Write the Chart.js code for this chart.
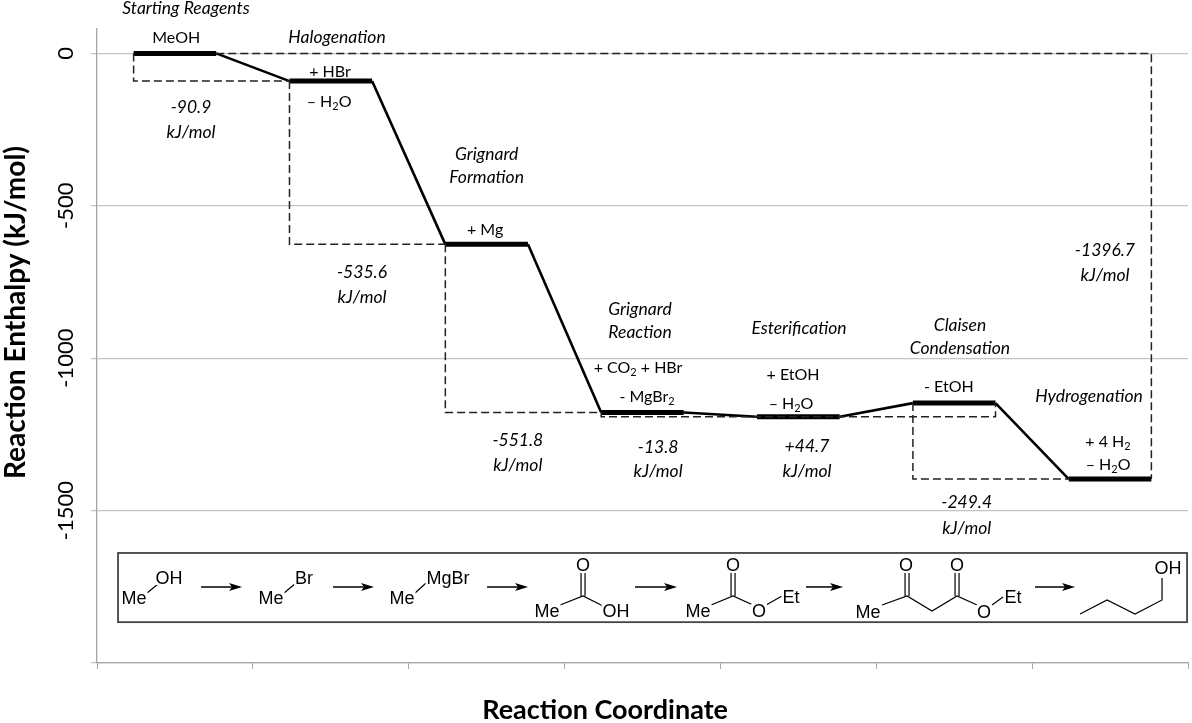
<!DOCTYPE html>
<html>
<head>
<meta charset="utf-8">
<script src="https://cdn.jsdelivr.net/npm/chart.js@4.4.1/dist/chart.umd.min.js"></script>
<style>
  html, body { margin: 0; padding: 0; background: #fff; }
  #wrap { width: 1192px; height: 723px; position: relative; }
</style>
</head>
<body>
<div id="wrap"><canvas id="enthalpyChart"></canvas></div>
<script>
// ---------- Data ----------
const stageNames = [["Starting Reagents"], ["Halogenation"], ["Grignard", "Formation"], ["Grignard", "Reaction"],
  ["Esterification"], ["Claisen", "Condensation"], ["Hydrogenation"]];
const levels = [0, -90.9, -626.5, -1178.3, -1192.1, -1147.4, -1396.7];   // kJ/mol, one per stage
const stepChanges = ["-90.9", "-535.6", "-551.8", "-13.8", "+44.7", "-249.4"];
const totalChange = "-1396.7";
const reagents = [["MeOH"], ["+ HBr", "– H_2O"], ["+ Mg"], ["+ CO_2 + HBr", "- MgBr_2"],
  ["+ EtOH", "– H_2O"], ["- EtOH"], ["+ 4 H_2", "– H_2O"]];
const yTicks = [0, -500, -1000, -1500, -2000];

// ---------- Layout (reaction coordinate / kJ/mol units) ----------
const HALF = 0.265;   // half width of an energy level
const stageNamePos = [[[0.571, 149]], [[1.54, 54]], [[2.5, -330], [2.5, -406]], [[3.484, -839], [3.484, -914]],
  [[4.504, -901]], [[5.537, -891], [5.537, -967]], [[6.365, -1124]]];
const reagentPos = [[[0.508, 50]], [[1.495, -61], [1.489, -159]], [[2.49, -579]], [[3.471, -1032], [3.529, -1127]],
  [[4.466, -1055], [4.453, -1150]], [[5.466, -1094]], [[6.487, -1275], [6.487, -1350]]];
const changePos = [[0.603, -176, -258], [1.70, -717, -799], [2.70, -1268, -1350], [3.60, -1291, -1370],
  [4.555, -1288, -1370], [5.58, -1472, -1557]];
const totalPos = [6.467, -645, -727];

const start = i => i + 0.5 - HALF;
const end = i => i + 0.5 + HALF;

// level path: two points per stage
const levelPath = [];
levels.forEach((v, i) => { levelPath.push({ x: start(i), y: v }, { x: end(i), y: v }); });

// dashed guide boxes
const guides = [
  [{ x: start(0), y: levels[0] }, { x: start(0), y: levels[1] }, { x: start(1), y: levels[1] }],
  [{ x: start(1), y: levels[1] }, { x: start(1), y: levels[2] }, { x: start(2), y: levels[2] }],
  [{ x: start(2), y: levels[2] }, { x: start(2), y: levels[3] }, { x: start(3), y: levels[3] }],
  [{ x: start(3), y: levels[3] }, { x: start(3), y: levels[4] }, { x: end(5), y: levels[4] }, { x: end(5), y: levels[5] }],
  [{ x: start(5), y: levels[5] }, { x: start(5), y: levels[6] }, { x: start(6), y: levels[6] }],
  [{ x: end(0), y: levels[0] }, { x: end(6), y: levels[0] }, { x: end(6), y: levels[6] }]
];

// ---------- Structure inset (pixels inside the box) ----------
const structTexts = [
  ["Me", 16, 45], ["OH", 51, 25], ["Me", 153, 45], ["Br", 186, 25], ["Me", 284, 45], ["MgBr", 330, 25],
  ["O", 465, 12], ["Me", 429, 58], ["OH", 498, 58],
  ["O", 615, 12], ["Me", 580, 58], ["O", 641, 58], ["Et", 673, 44],
  ["Me", 750, 59], ["O", 788, 12], ["O", 839, 12], ["O", 866, 59], ["Et", 895, 44],
  ["OH", 1050, 15]
];
const structLines = [
  [[29, 40], [40, 31]], [[166, 40], [178, 30]], [[297, 40], [308, 30]],
  [[442, 52], [465, 43], [485, 53]], [[463, 43], [463, 20]], [[467, 43], [467, 20]],
  [[593, 52], [615, 43], [635, 52]], [[613, 43], [613, 20]], [[617, 43], [617, 20]], [[648, 52], [664, 43]],
  [[764, 52], [789, 43], [814, 58], [839, 43], [859, 52]], [[787, 43], [787, 20]], [[791, 43], [791, 20]],
  [[837, 43], [837, 20]], [[841, 43], [841, 20]], [[874, 52], [885, 44]],
  [[962, 61], [989, 47], [1017, 61], [1044, 47], [1044, 25]]
];
const structArrows = [[83, 124], [215, 256], [369, 410], [517, 559], [688, 725], [917, 957]];

// ---------- Drawing helpers ----------
function richText(ctx, str, x, y, size, style) {
  const parts = str.split(/_(\d)/);
  const big = style + " " + size + "px Lato";
  const small = style + " " + Math.round(size * 0.68) + "px Lato";
  let w = 0;
  parts.forEach((p, k) => { ctx.font = k % 2 ? small : big; w += ctx.measureText(p).width; });
  let cx = x - w / 2;
  ctx.textAlign = "left";
  parts.forEach((p, k) => {
    ctx.font = k % 2 ? small : big;
    ctx.textBaseline = "middle";
    ctx.fillText(p, cx, k % 2 ? y + size * 0.28 : y);
    cx += ctx.measureText(p).width;
  });
}

const labelsPlugin = {
  id: "labels",
  afterDraw(chart) {
    const ctx = chart.ctx;
    const xs = chart.scales.x, ys = chart.scales.y;
    const px = v => xs.getPixelForValue(v), py = v => ys.getPixelForValue(v);
    ctx.save();
    ctx.fillStyle = "#000";

    stageNames.forEach((lines, i) => lines.forEach((t, k) => {
      richText(ctx, t, px(stageNamePos[i][k][0]), py(stageNamePos[i][k][1]), 17.5, "italic");
    }));
    reagents.forEach((lines, i) => lines.forEach((t, k) => {
      richText(ctx, t, px(reagentPos[i][k][0]), py(reagentPos[i][k][1]), 16, "normal");
    }));
    stepChanges.forEach((t, i) => {
      const p = changePos[i];
      richText(ctx, t, px(p[0]), py(p[1]), 17.5, "italic");
      richText(ctx, "kJ/mol", px(p[0]), py(p[2]), 17.5, "italic");
    });
    richText(ctx, totalChange, px(totalPos[0]), py(totalPos[1]), 17.5, "italic");
    richText(ctx, "kJ/mol", px(totalPos[0]), py(totalPos[2]), 17.5, "italic");

    // axis titles
    ctx.font = "bold 27px Lato";
    ctx.textAlign = "center";
    ctx.textBaseline = "middle";
    ctx.fillText("Reaction Coordinate", px(3.26), chart.chartArea.bottom + 47);
    ctx.save();
    ctx.translate(16, py(-850));
    ctx.rotate(-Math.PI / 2);
    ctx.font = "bold 28px Lato";
    ctx.fillText("Reaction Enthalpy (kJ/mol)", 0, 0);
    ctx.restore();

    // structure inset
    const bx = px(0.135), by = py(-1639), bx2 = px(6.994), by2 = py(-1866);
    ctx.strokeStyle = "#444";
    ctx.lineWidth = 1.8;
    ctx.strokeRect(bx, by, bx2 - bx, by2 - by);
    ctx.lineWidth = 1.2;
    ctx.strokeStyle = "#000";
    structLines.forEach(pts => {
      ctx.beginPath();
      pts.forEach((p, k) => k ? ctx.lineTo(bx + p[0], by + p[1]) : ctx.moveTo(bx + p[0], by + p[1]));
      ctx.stroke();
    });
    structArrows.forEach(a => {
      ctx.lineWidth = 1.5;
      ctx.beginPath();
      ctx.moveTo(bx + a[0], by + 34);
      ctx.lineTo(bx + a[1] - 8, by + 34);
      ctx.stroke();
      ctx.beginPath();
      ctx.moveTo(bx + a[1], by + 34);
      ctx.lineTo(bx + a[1] - 13, by + 30);
      ctx.lineTo(bx + a[1] - 10, by + 34);
      ctx.lineTo(bx + a[1] - 13, by + 38);
      ctx.closePath();
      ctx.fill();
    });
    ctx.font = "18px 'Liberation Sans'";
    ctx.textAlign = "center";
    ctx.textBaseline = "middle";
    structTexts.forEach(t => {
      ctx.fillStyle = "#fff";
      const w = ctx.measureText(t[0]).width;
      ctx.fillRect(bx + t[1] - w / 2 - 1, by + t[2] - 7, w + 2, 14);
      ctx.fillStyle = "#000";
      ctx.fillText(t[0], bx + t[1], by + t[2] + 1);
    });
    ctx.restore();
  }
};

// ---------- Chart ----------
const ctx = document.getElementById("enthalpyChart").getContext("2d");

const datasets = guides.map(g => ({
  data: g,
  borderColor: "#222",
  borderWidth: 1.5,
  borderDash: [8, 4],
  pointRadius: 0,
  fill: false,
  tension: 0
}));
datasets.push({
  data: levelPath,
  borderColor: "#000",
  borderWidth: 2.6,
  pointRadius: 0,
  fill: false,
  tension: 0,
  segment: {
    borderWidth: c => (c.p0.parsed.y === c.p1.parsed.y ? 5 : 2.6)
  }
});

new Chart(ctx, {
  type: "line",
  data: { datasets },
  options: {
    responsive: true,
    maintainAspectRatio: false,
    animation: false,
    events: [],
    layout: { padding: { top: 29, right: 4, left: 0, bottom: 0 } },
    plugins: { legend: { display: false }, tooltip: { enabled: false } },
    scales: {
      x: {
        type: "linear",
        min: 0,
        max: 7,
        ticks: { display: false, stepSize: 1 },
        grid: { drawOnChartArea: false, drawTicks: true, tickLength: 6, color: "#a6a6a6" },
        border: { color: "#a6a6a6", width: 1.3 },
        afterFit: s => { s.height = 60; }
      },
      y: {
        min: -2000,
        max: 80,
        afterBuildTicks: s => { s.ticks = yTicks.map(v => ({ value: v })); },
        ticks: {
          minRotation: 90,
          maxRotation: 90,
          crossAlign: "center",
          padding: -5,
          color: "#000",
          font: { family: "Lato", size: 22 },
          callback: v => (v === -2000 ? "" : String(v))
        },
        grid: { color: "#c4c4c4", lineWidth: 1.3, tickLength: 6 },
        border: { color: "#a6a6a6", width: 1.3 },
        afterFit: s => { s.width = 97; }
      }
    }
  },
  plugins: [labelsPlugin]
});
</script>
</body>
</html>
